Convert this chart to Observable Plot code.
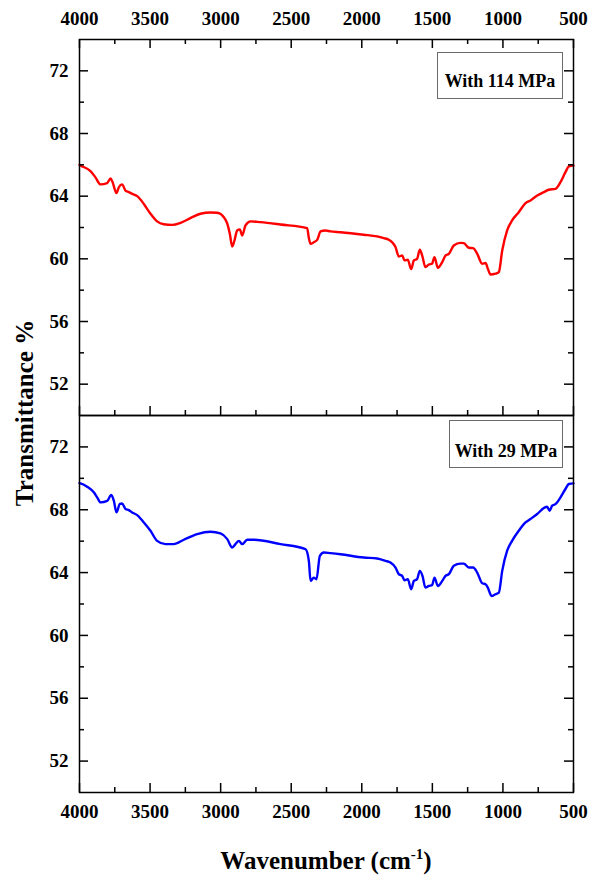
<!DOCTYPE html>
<html>
<head>
<meta charset="utf-8">
<script src="https://cdn.jsdelivr.net/npm/d3@7"></script>
<script src="https://cdn.jsdelivr.net/npm/@observablehq/plot@0.6"></script>
<style>
  body { margin: 0; background: #fff; }
  #wrap { position: relative; width: 602px; height: 876px; font-family: "Liberation Serif", "Times New Roman", serif; font-weight: bold; color: #000; overflow: hidden; }
  .panel { position: absolute; left: 0; }
  .panel svg { overflow: visible; }
  .box { position: absolute; border: 1px solid #6a6a6a; box-sizing: border-box; background: #fff; }
  .box span { position: absolute; left: 0; right: 0; text-align: center; font-size: 18px; line-height: 18px; white-space: nowrap; }
  .ylab { position: absolute; left: 24px; top: 413px; transform: translate(-50%, -50%) rotate(-90deg); font-size: 25px; white-space: nowrap; line-height: 1; }
  .xlab { position: absolute; left: 326px; top: 848px; transform: translateX(-50%); font-size: 25px; white-space: nowrap; line-height: 1; }
  .xlab sup { font-size: 15px; vertical-align: 10px; line-height: 0; }
</style>
</head>
<body>
<div id="wrap"></div>
<script>
// ---- data ----
const seriesLabels = ["With 114 MPa", "With 29 MPa"];
const seriesColors = ["#ff0000", "#0000ff"];

const wn114 = [4000, 3993, 3922, 3887, 3851, 3804, 3780, 3766, 3738, 3721, 3698, 3674, 3651, 3627, 3591, 3544, 3497, 3450, 3403, 3343, 3284, 3214, 3143, 3072, 3024, 2977, 2953, 2935, 2918, 2902, 2883, 2864, 2847, 2824, 2788, 2718, 2576, 2387, 2376, 2363, 2340, 2316, 2292, 2257, 2222, 2151, 1986, 1891, 1844, 1809, 1785, 1761, 1738, 1714, 1697, 1674, 1650, 1631, 1608, 1589, 1572, 1549, 1525, 1502, 1485, 1461, 1430, 1407, 1383, 1348, 1301, 1277, 1242, 1211, 1182, 1147, 1123, 1107, 1088, 1053, 1029, 1005, 970, 935, 888, 840, 805, 757, 710, 675, 628, 592, 557, 533, 502, 500];
const t114 = [66.0, 65.96, 65.6, 65.2, 64.75, 64.83, 65.13, 64.9, 64.2, 64.57, 64.75, 64.36, 64.26, 64.15, 64.0, 63.5, 62.88, 62.39, 62.21, 62.17, 62.3, 62.6, 62.88, 62.96, 62.94, 62.66, 62.24, 61.6, 60.79, 61.17, 61.81, 61.88, 61.49, 62.13, 62.39, 62.34, 62.19, 61.96, 61.38, 60.96, 61.06, 61.21, 61.75, 61.81, 61.75, 61.70, 61.54, 61.43, 61.32, 61.22, 61.06, 60.75, 60.15, 60.21, 59.9, 59.94, 59.34, 59.9, 60.0, 60.58, 60.21, 59.47, 59.64, 59.69, 60.11, 59.43, 59.79, 60.21, 60.32, 60.85, 61.02, 61.0, 60.71, 60.68, 60.32, 59.69, 59.73, 59.37, 59.0, 59.05, 59.15, 60.53, 61.81, 62.45, 62.98, 63.55, 63.73, 64.04, 64.26, 64.41, 64.47, 64.9, 65.53, 65.9, 65.96, 65.96];

const wn29 = [4000, 3993, 3946, 3899, 3875, 3851, 3804, 3775, 3757, 3738, 3714, 3698, 3674, 3651, 3627, 3591, 3544, 3497, 3450, 3391, 3332, 3261, 3166, 3072, 3001, 2953, 2918, 2895, 2871, 2847, 2812, 2765, 2576, 2399, 2375, 2363, 2340, 2321, 2297, 2269, 2222, 2151, 1986, 1891, 1832, 1797, 1761, 1738, 1714, 1697, 1674, 1650, 1631, 1608, 1589, 1570, 1549, 1525, 1502, 1485, 1461, 1430, 1407, 1383, 1348, 1301, 1277, 1242, 1211, 1182, 1147, 1123, 1107, 1081, 1053, 1029, 1005, 970, 935, 888, 840, 805, 757, 710, 687, 669, 651, 628, 592, 557, 533, 502, 500];
const t29 = [69.7, 69.68, 69.47, 69.11, 68.79, 68.47, 68.56, 68.94, 68.58, 67.83, 68.37, 68.4, 68.05, 67.98, 67.83, 67.66, 67.19, 66.66, 66.02, 65.81, 65.81, 66.09, 66.45, 66.6, 66.49, 66.13, 65.6, 65.81, 66.02, 65.81, 66.09, 66.09, 65.81, 65.49, 64.74, 63.47, 63.68, 63.58, 65.07, 65.28, 65.24, 65.17, 64.96, 64.9, 64.75, 64.64, 64.32, 63.9, 63.79, 63.51, 63.58, 62.94, 63.47, 63.58, 64.11, 63.79, 63.04, 63.15, 63.2, 63.68, 63.15, 63.47, 63.79, 63.9, 64.43, 64.57, 64.57, 64.32, 64.32, 64.0, 63.32, 63.26, 63.04, 62.51, 62.62, 62.72, 64.11, 65.39, 66.02, 66.66, 67.19, 67.41, 67.73, 68.11, 68.19, 67.94, 68.26, 68.36, 68.79, 69.32, 69.64, 69.68, 69.68];

const xMajorTicks = [4000, 3500, 3000, 2500, 2000, 1500, 1000, 500];
const xMinorTicks = [3750, 3250, 2750, 2250, 1750, 1250, 750];
const yMajorTicks = [52, 56, 60, 64, 68, 72];
const yMinorTicks = [54, 58, 62, 66, 70];
const xDomain = [4000, 500];
const yDomain = [50, 74];

// ---- layout ----
const W = 602, ML = 79, MR = 29;
const frameW = W - ML - MR;
const majorLen = 9, minorLen = 5;
const FONT = '"Liberation Serif", "Times New Roman", serif';
const svgStyle = {fontFamily: FONT, fontSize: "19px", fontWeight: "bold", color: "#000", background: "transparent", overflow: "visible"};

function tickMarks(frameH, sides) {
  const marks = [];
  if (sides.includes("top")) {
    marks.push(Plot.ruleX(xMajorTicks, {strokeWidth: 1.5, insetBottom: frameH - majorLen}));
    marks.push(Plot.ruleX(xMinorTicks, {strokeWidth: 1.5, insetBottom: frameH - minorLen}));
  }
  if (sides.includes("bottom")) {
    marks.push(Plot.ruleX(xMajorTicks, {strokeWidth: 1.5, insetTop: frameH - majorLen}));
    marks.push(Plot.ruleX(xMinorTicks, {strokeWidth: 1.5, insetTop: frameH - minorLen}));
  }
  marks.push(Plot.ruleY(yMajorTicks, {strokeWidth: 1.5, insetRight: frameW - majorLen}));
  marks.push(Plot.ruleY(yMinorTicks, {strokeWidth: 1.5, insetRight: frameW - minorLen}));
  marks.push(Plot.ruleY(yMajorTicks, {strokeWidth: 1.5, insetLeft: frameW - majorLen}));
  marks.push(Plot.ruleY(yMinorTicks, {strokeWidth: 1.5, insetLeft: frameW - minorLen}));
  return marks;
}

function makePanel(wn, t, color, opts) {
  const frameH = opts.height - opts.marginTop - opts.marginBottom;
  const data = wn.map((w, i) => ({w, t: t[i]}));
  return Plot.plot({
    width: W,
    height: opts.height,
    marginLeft: ML,
    marginRight: MR,
    marginTop: opts.marginTop,
    marginBottom: opts.marginBottom,
    style: svgStyle,
    x: {domain: xDomain, label: null},
    y: {domain: yDomain, label: null},
    marks: [
      Plot.line(data, {x: "w", y: "t", stroke: color, strokeWidth: 2.4, curve: "monotone-x"}),
      ...tickMarks(frameH, opts.tickSides),
      Plot.axisY(yMajorTicks, {anchor: "left", tickSize: 0, tickPadding: 11, label: null, tickFormat: d => String(d)}),
      Plot.axisX(xMajorTicks, {anchor: opts.axisAnchor, tickSize: 0, tickPadding: opts.axisPad, label: null, tickFormat: d => String(d)}),
      Plot.frame({stroke: "#000", strokeWidth: 1.5})
    ]
  });
}

const wrapEl = document.getElementById("wrap");

const topChart = makePanel(wn114, t114, seriesColors[0], {height: 416, marginTop: 39, marginBottom: 1, tickSides: ["top", "bottom"], axisAnchor: "top", axisPad: 15});
const topDiv = document.createElement("div");
topDiv.className = "panel";
topDiv.style.top = "0px";
topDiv.appendChild(topChart);
wrapEl.appendChild(topDiv);

const botChart = makePanel(wn29, t29, seriesColors[1], {height: 418, marginTop: 1, marginBottom: 40, tickSides: ["bottom"], axisAnchor: "bottom", axisPad: 12});
const botDiv = document.createElement("div");
botDiv.className = "panel";
botDiv.style.top = "414px";
botDiv.appendChild(botChart);
wrapEl.appendChild(botDiv);

// legend boxes
function legendBox(label, left, topPx, w, h, textTop) {
  const b = document.createElement("div");
  b.className = "box";
  Object.assign(b.style, {left: left + "px", top: topPx + "px", width: w + "px", height: h + "px"});
  const s = document.createElement("span");
  s.style.top = textTop + "px";
  s.textContent = label;
  b.appendChild(s);
  wrapEl.appendChild(b);
}
legendBox(seriesLabels[0], 437, 52, 126, 47, 19);
legendBox(seriesLabels[1], 449, 420, 114, 48, 21);

// axis titles
const yl = document.createElement("div");
yl.className = "ylab";
yl.textContent = "Transmittance %";
wrapEl.appendChild(yl);

const xl = document.createElement("div");
xl.className = "xlab";
xl.innerHTML = "Wavenumber (cm<sup>-1</sup>)";
wrapEl.appendChild(xl);
</script>
</body>
</html>
